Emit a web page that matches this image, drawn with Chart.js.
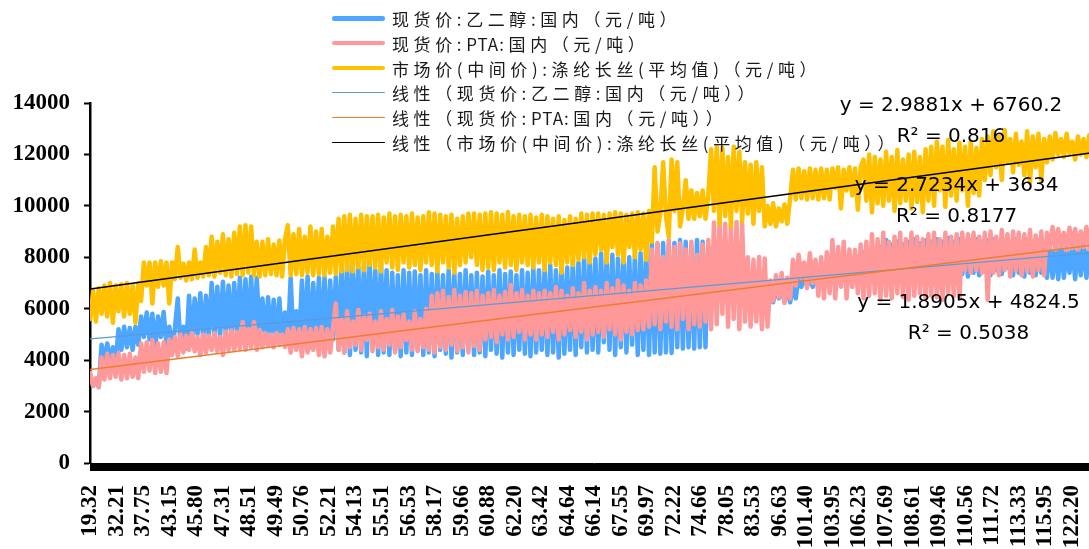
<!DOCTYPE html>
<html>
<head>
<meta charset="utf-8">
<script src="https://cdn.jsdelivr.net/npm/chart.js@4.4.1/dist/chart.umd.min.js"></script>
<style>
  html, body { margin: 0; padding: 0; overflow: hidden; background: #fff; width: 1089px; height: 549px; }
  #wrap { position: relative; width: 1098px; height: 549px; }
  #legend { position: absolute; left: 332px; top: 6px; font-family: "Noto Sans CJK SC", sans-serif;
            font-size: 17px; letter-spacing: 4.6px; color: #1a1a1a; }
  #legend .latin { letter-spacing: 1px; }
  .row { display: flex; align-items: center; height: 24.8px; white-space: nowrap; }
  .sw { width: 53px; margin-right: 7px; flex: none; }
</style>
</head>
<body>
<div id="wrap">
  <canvas id="c" width="1098" height="549"></canvas>
  <div id="legend"></div>
</div>
<script>
// Category axis: one category per observation, a label on every 47th one
const CATEGORY_COUNT = 1786;
const LABEL_EVERY = 47;
// the price series are sampled every STEP categories
const STEP = 5;

const xTickLabels = [
  '19.32', '32.21', '37.75', '43.15', '45.80', '47.31', '48.51', '49.49', '50.76', '52.21',
  '54.13', '55.51', '56.53', '58.17', '59.66', '60.88', '62.20', '63.42', '64.64', '66.14',
  '67.55', '69.97', '72.22', '74.66', '78.05', '83.53', '96.63', '101.40', '103.95', '106.23',
  '107.69', '108.61', '109.46', '110.56', '111.72', '113.33', '115.95', '122.20'
];

const seriesNames = [
  '现货价:乙二醇:国内（元/吨）',
  '现货价:PTA:国内（元/吨）',
  '市场价(中间价):涤纶长丝(平均值)（元/吨）'
];

// 现货价:乙二醇:国内
const megValues = [
  3400, 3000, 3200, 2950, 4600, 3900, 4650, 3950, 4500, 3900, 5200, 4400, 5300, 4500, 5250, 4400, 5300, 4600, 5700, 4900,
  5850, 4800, 5800, 4400, 5700, 4900, 5870, 4600, 5300, 4400, 5250, 6400, 4500, 5300, 4450, 6500, 4600, 6400, 5000, 6600,
  4800, 6500, 4900, 7000, 4950, 6850, 4900, 7050, 5000, 6900, 4900, 7000, 4950, 7200, 4900, 7150, 5000, 7250, 4900, 7200,
  4950, 6400, 4800, 6450, 4850, 6350, 4800, 6400, 4750, 5850, 4700, 7200, 4750, 5900, 4700, 7100, 4600, 7250, 4500, 7000,
  4700, 7200, 4600, 7250, 4550, 7100, 4800, 7250, 4400, 7700, 4300, 7800, 4200, 7900, 4400, 7600, 4300, 7800, 4150, 7900,
  4500, 7500, 4200, 7850, 4300, 7500, 4200, 7400, 4400, 7300, 4150, 7500, 4300, 7400, 4200, 7450, 4450, 7300, 4200, 7500,
  4300, 7350, 4150, 7450, 4400, 7300, 4250, 7500, 4100, 7400, 4300, 7350, 4200, 7500, 4450, 7300, 4200, 7400, 4300, 7250,
  4150, 7450, 4400, 7300, 4250, 7500, 4100, 7350, 4300, 7450, 4200, 7300, 4400, 7500, 4250, 7400, 4150, 7600, 4300, 7500,
  4400, 7600, 4200, 7700, 4300, 7500, 4100, 7800, 4250, 7600, 4400, 7900, 4200, 7800, 4500, 8000, 4300, 8100, 4400, 7950,
  4300, 8150, 4700, 8000, 4400, 8100, 4200, 7950, 4500, 8150, 4300, 8000, 4600, 8100, 4200, 8160, 4400, 8300, 4200, 8560,
  4300, 8500, 4250, 8560, 4300, 8450, 4280, 8560, 4500, 8670, 4450, 8600, 4500, 8400, 4450, 8670, 4500, 8600, 4500, 8400,
  6300, 7000, 6200, 6900, 6400, 7000, 6300, 6900, 6200, 7000, 6300, 6850, 6250, 6950, 6400, 7000, 6300, 6900, 6200, 7000,
  6300, 6850, 6250, 6800, 6400, 6850, 6300, 6800, 6250, 6850, 6400, 7250, 6850, 7200, 6900, 7250, 6850, 7200, 6900, 7250,
  6900, 7250, 7000, 7400, 7000, 7500, 7100, 7400, 7000, 7600, 7200, 7500, 8000, 7100, 8200, 7200, 8100, 7300, 8300, 7200,
  8400, 7200, 8670, 7300, 8500, 7150, 8600, 7400, 8500, 7300, 8600, 7200, 8700, 7400, 8550, 7300, 8650, 7500, 8600, 7250,
  8700, 7400, 8600, 7300, 8750, 7400, 8600, 7500, 8700, 7350, 8600, 7250, 8650, 7400, 8700, 7300, 8600, 7450, 8650, 7300,
  8700, 7500, 8600, 7350, 8650, 7600, 8550, 7300, 8700, 7400, 8600, 7250, 8700, 7400, 8600, 7300, 8650, 7400, 8500, 7200,
  8500, 7200, 8400, 7150, 8560, 7200, 8300, 7400, 8500, 7150, 8450, 7300, 8560, 7200, 8400, 7300
];

// 现货价:PTA:国内
const ptaValues = [
  3500, 3000, 3300, 2950, 4100, 3250, 4250, 3300, 4200, 3350, 4280, 3250, 4200, 3300, 4250, 3350, 4100, 3300, 4650, 3550,
  4700, 3600, 4780, 3500, 4650, 3550, 4700, 3500, 4800, 4200, 4900, 4150, 5000, 4300, 4950, 4400, 5050, 4350, 4900, 4200,
  5000, 4300, 4950, 4400, 5050, 4350, 4900, 4200, 5100, 4400, 5150, 4400, 5100, 4450, 5480, 4400, 5200, 4500, 5480, 4400,
  5170, 4500, 5050, 4550, 5000, 4500, 5050, 4600, 5000, 4510, 5200, 4300, 5250, 4400, 5200, 4150, 5290, 4300, 5200, 4400,
  5250, 4200, 5290, 4150, 5200, 4300, 5250, 6200, 4400, 5600, 4300, 5900, 4500, 5500, 4600, 5950, 4400, 5700, 4780, 5800,
  4350, 5500, 4500, 5900, 4400, 5600, 4600, 5950, 4300, 5700, 4500, 5800, 4780, 5500, 4400, 5900, 4350, 5600, 4500, 6000,
  4400, 6500, 4300, 6600, 4500, 6700, 4400, 6450, 4600, 6730, 4350, 6500, 4500, 6650, 4300, 6600, 4550, 6700, 4400, 6500,
  4800, 6600, 4900, 6730, 4700, 6500, 5000, 6650, 4800, 6920, 4900, 6600, 5100, 6730, 4800, 6500, 5000, 6700, 4800, 6600,
  5000, 6700, 4900, 6600, 5100, 6840, 4800, 6700, 5000, 6500, 5170, 6800, 4900, 6600, 5100, 7000, 4800, 6700, 5000, 6840,
  5100, 6700, 4900, 7000, 5200, 6800, 5000, 7100, 4800, 6900, 5100, 6700, 5000, 7000, 5170, 6900, 5200, 7100, 5300, 8300,
  5400, 8560, 5200, 8010, 5500, 8670, 5300, 8400, 5200, 8550, 5600, 8300, 5200, 8600, 5400, 8100, 5300, 8500, 5500, 8670,
  5200, 9350, 5400, 9370, 5800, 9300, 5300, 9250, 5600, 9370, 5200, 9300, 5500, 8000, 5300, 7900, 5500, 8010, 5200, 7950,
  5300, 7100, 6300, 7300, 6450, 7390, 6220, 7200, 6400, 7900, 6900, 8100, 7200, 7800, 6800, 8160, 7000, 7900, 6500, 8000,
  6400, 8200, 6600, 8670, 6400, 8400, 6850, 8600, 6400, 8300, 6840, 8280, 6600, 8500, 6400, 8600, 6500, 8900, 6600, 8700,
  6350, 8950, 6500, 8600, 6400, 8800, 6600, 8950, 6450, 8700, 6350, 8950, 6500, 8800, 6600, 8700, 6400, 8900, 6500, 8950,
  6450, 8700, 6350, 8950, 6600, 8800, 6500, 8900, 6400, 8950, 7500, 8900, 7400, 8950, 7500, 8800, 7400, 8950, 6340, 9000,
  7400, 8800, 7300, 9060, 7500, 8900, 7250, 9000, 7500, 8950, 7300, 8900, 7450, 9060, 7250, 8850, 7500, 9000, 7300, 8950,
  8350, 9180, 8300, 9100, 8400, 8950, 8280, 9150, 8350, 9100, 8300, 9000, 8400, 9180, 8300, 9100
];

// 市场价(中间价):涤纶长丝(平均值)
const filamentValues = [
  5600, 6700, 5500, 6800, 5800, 6900, 5700, 7000, 5450, 6900, 5900, 6950, 5700, 7000, 5800, 6900, 5450, 7000, 6300, 7800,
  6900, 7800, 6200, 7800, 6850, 7850, 6900, 7800, 6200, 7800, 7150, 8400, 7200, 7750, 7100, 7800, 7150, 8300, 7200, 7800,
  7250, 8400, 7300, 8800, 7250, 8600, 7400, 8900, 7300, 8700, 7250, 8950, 7350, 9200, 7300, 9250, 7400, 9200, 7300, 8600,
  7250, 8600, 7300, 8700, 7350, 8500, 7300, 8650, 7250, 8700, 9250, 7300, 8900, 7350, 9100, 7300, 8800, 7400, 9200, 7300,
  9000, 7350, 9100, 7300, 8800, 7400, 9200, 7350, 9500, 7450, 9600, 7500, 9650, 7450, 9500, 7600, 9650, 7500, 9600, 7700,
  9600, 7600, 9650, 7450, 9550, 7800, 9700, 7600, 9600, 7500, 9650, 7800, 9600, 7600, 9700, 7700, 9550, 7500, 9600, 7800,
  9750, 7700, 9700, 7450, 9650, 7800, 9600, 7600, 9650, 7400, 9500, 7700, 9600, 7800, 9700, 8000, 9700, 7700, 9650, 7500,
  9700, 7600, 9750, 7500, 9700, 7800, 9650, 7600, 9760, 7700, 9600, 7500, 9650, 7800, 9600, 7700, 9650, 7600, 9550, 7800,
  9650, 7500, 9600, 7800, 9500, 7700, 9600, 7400, 9450, 7800, 9600, 7700, 9500, 7900, 9700, 8000, 9650, 7800, 9700, 8100,
  9700, 8300, 9650, 7800, 9700, 8400, 9750, 8100, 9700, 7800, 9650, 8400, 9700, 8000, 9750, 8300, 9700, 7900, 9800, 8600,
  11500, 9000, 9700, 11700, 9600, 8800, 11800, 9800, 11700, 9200, 9900, 11000, 9500, 10600, 9500, 10500, 9600, 10600, 9500, 10400,
  12200, 9800, 12300, 9300, 12250, 9600, 11900, 9200, 12300, 9800, 12100, 9400, 11700, 9700, 11600, 9300, 11700, 9800, 11500, 9200,
  10000, 9300, 10100, 9200, 9900, 9400, 10050, 9300, 10300, 11400, 10250, 11450, 10300, 11350, 10250, 11450, 10300, 11400, 10250, 11450,
  10300, 11400, 10250, 11450, 10700, 11500, 9900, 11400, 10600, 11500, 10400, 11450, 9850, 11500, 11800, 10200, 12000, 9750, 11900, 10100,
  11800, 10000, 12100, 10200, 11900, 9800, 12170, 10100, 11800, 10200, 12000, 9900, 12100, 10150, 11900, 9750, 12200, 10200, 12300, 10000,
  12500, 10600, 12300, 9960, 12560, 10400, 12200, 10200, 12450, 10600, 12300, 10000, 12500, 10500, 12250, 10400, 12600, 11000, 12700, 11200,
  12900, 11500, 12700, 11000, 12950, 11700, 12600, 11300, 12800, 11600, 12500, 11200, 12900, 10900, 12700, 11500, 12800, 11000, 12600, 11700,
  12700, 11800, 12830, 12000, 12600, 11900, 12800, 12050, 12500, 11800, 12700, 12000, 12600, 11900, 12750, 12000
];

// Linear trendlines, y = slope * x + intercept with x = category number
const trendSlopes = [1.8905, 2.7234, 2.9881];
const trendIntercepts = [4824.5, 3634, 6760.2];
const trendR2 = [0.5038, 0.8177, 0.816];

const yTickValues = [0, 2000, 4000, 6000, 8000, 10000, 12000, 14000];

// ---- styling ----
const seriesColors = ['#4da6ff', '#ff9999', '#ffc000'];
const trendColors = ['#5b9bd5', '#ed7d31', '#000000'];
// where each equation block is centred, in category / value units
const equationAnchors = [
  { x: 1557, y: 6222 },
  { x: 1536, y: 10772 },
  { x: 1526, y: 13883 }
];
const EQ_LINE_GAP = 31;

const toPoints = (values) => values.map((v, i) => ({ x: 1 + i * STEP, y: v }));
const trendPoints = (k) => [1, CATEGORY_COUNT].map(x => ({ x, y: trendSlopes[k] * x + trendIntercepts[k] }));

const seriesValues = [megValues, ptaValues, filamentValues];
const datasets = [];
seriesValues.forEach((vals, k) => {
  datasets.push({
    label: seriesNames[k], data: toPoints(vals), borderColor: seriesColors[k],
    borderWidth: 4.5, order: 5 - k
  });
});
seriesNames.forEach((name, k) => {
  datasets.push({
    label: '线性（' + name + '）', data: trendPoints(k), borderColor: trendColors[k],
    borderWidth: k === 2 ? 1.5 : 1.3, order: 2 - k
  });
});

const equationLabels = {
  id: 'equationLabels',
  afterDatasetsDraw(chart) {
    const { ctx, scales: { x, y } } = chart;
    ctx.save();
    ctx.font = '20px "DejaVu Sans"';
    ctx.fillStyle = '#000';
    ctx.textAlign = 'center';
    ctx.textBaseline = 'middle';
    trendSlopes.forEach((s, k) => {
      const px = x.getPixelForValue(equationAnchors[k].x);
      const py = y.getPixelForValue(equationAnchors[k].y);
      ctx.fillText('y = ' + s + 'x + ' + trendIntercepts[k], px, py);
      ctx.fillText('R² = ' + trendR2[k], px, py + EQ_LINE_GAP);
    });
    ctx.restore();
  }
};

const tickFont = { family: '"Liberation Serif", "Times New Roman", serif', size: 23, weight: 'bold' };

const chart = new Chart(document.getElementById('c'), {
  type: 'line',
  data: { datasets },
  options: {
    responsive: false,
    animation: false,
    events: [],
    layout: { padding: { top: 103, left: 0, right: 0, bottom: 0 } },
    plugins: { legend: { display: false }, tooltip: { enabled: false } },
    elements: {
      point: { radius: 0 },
      line: { tension: 0, borderJoinStyle: 'round', borderCapStyle: 'round' }
    },
    scales: {
      x: {
        type: 'linear', bounds: 'data', min: 0.5, max: CATEGORY_COUNT + 0.5,
        afterBuildTicks(scale) {
          scale.ticks = Array.from({ length: CATEGORY_COUNT }, (_, i) => ({ value: i + 1 }));
        },
        afterFit(scale) { scale.height = 86; scale.paddingLeft = 0; scale.paddingRight = 0; },
        ticks: {
          autoSkip: false, minRotation: 90, maxRotation: 90, padding: 14, color: '#000', font: tickFont,
          callback(v) {
            const k = (v - 1) / LABEL_EVERY;
            return Number.isInteger(k) && k < xTickLabels.length ? xTickLabels[k] : '';
          }
        },
        grid: { drawOnChartArea: false, drawTicks: true, tickLength: 8, tickColor: '#000', tickWidth: 1 },
        border: { display: true, color: '#000', width: 1 }
      },
      y: {
        min: 0, max: 14000,
        afterBuildTicks(scale) { scale.ticks = yTickValues.map(value => ({ value })); },
        afterFit(scale) { scale.width = 90; scale.paddingTop = 0; scale.paddingBottom = 0; },
        ticks: { padding: 14, color: '#000', font: tickFont, callback: v => String(v) },
        grid: { drawOnChartArea: false, drawTicks: true, tickLength: 6, tickColor: '#000', tickWidth: 2 },
        border: { display: true, color: '#000', width: 2.5 }
      }
    }
  },
  plugins: [equationLabels]
});

// legend, one entry per row, built from the chart's datasets;
// runs of Latin letters keep a tighter letter spacing than the Chinese text
const legendBox = document.getElementById('legend');
chart.data.datasets.forEach(ds => {
  const row = document.createElement('div');
  row.className = 'row';
  const sw = document.createElement('span');
  sw.className = 'sw';
  sw.style.height = ds.borderWidth + 'px';
  sw.style.background = ds.borderColor;
  sw.style.borderRadius = (ds.borderWidth / 2) + 'px';
  const txt = document.createElement('span');
  ds.label.split(/([A-Za-z]+)/).forEach(part => {
    if (!part) return;
    if (/^[A-Za-z]+$/.test(part)) {
      const s = document.createElement('span');
      s.className = 'latin';
      s.textContent = part;
      txt.appendChild(s);
    } else {
      txt.appendChild(document.createTextNode(part));
    }
  });
  row.appendChild(sw);
  row.appendChild(txt);
  legendBox.appendChild(row);
});
</script>
</body>
</html>
